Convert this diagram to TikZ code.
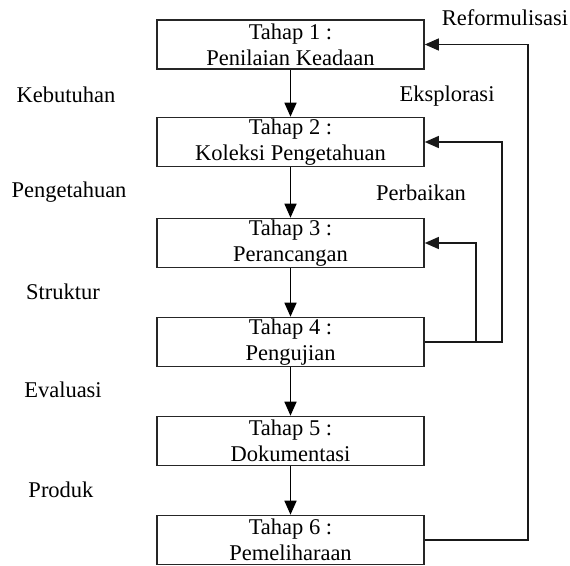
\documentclass[tikz,border=0pt]{standalone}
\usepackage{fontspec}
\setmainfont{Liberation Serif}
\usetikzlibrary{arrows.meta}
\begin{document}
\begin{tikzpicture}[x=1pt,y=-1pt,
  stage/.style={draw=black!85,line width=1.6pt,minimum width=267pt,minimum height=49pt,inner sep=0pt,align=center,font=\fontsize{22.5}{26}\selectfont,text=black},
  lbl/.style={font=\fontsize{22.5}{26}\selectfont,text=black,inner sep=0pt},
  flow/.style={line width=1.6pt,draw=black,-{Triangle[length=14pt,width=12pt]}},
  back/.style={line width=1.3pt,draw=black!90,-{Triangle[length=14pt,width=12pt]}}]
\useasboundingbox (0,0) rectangle (570,565);
\node[stage] (s1) at (290.5,44.5) {Tahap 1 :\\Penilaian Keadaan};
\node[stage] (s2) at (290.5,142) {Tahap 2 :\\Koleksi Pengetahuan};
\node[stage] (s3) at (290.5,243) {Tahap 3 :\\Perancangan};
\node[stage] (s4) at (290.5,342) {Tahap 4 :\\Pengujian};
\node[stage] (s5) at (290.5,441) {Tahap 5 :\\Dokumentasi};
\node[stage] (s6) at (290.5,540) {Tahap 6 :\\Pemeliharaan};
\draw[flow] (s1) -- (s2);
\draw[flow] (s2) -- (s3);
\draw[flow] (s3) -- (s4);
\draw[flow] (s4) -- (s5);
\draw[flow] (s5) -- (s6);
\coordinate (rf) at (528,0);
\coordinate (ex) at (502,0);
\coordinate (pb) at (476,0);
\draw[back] (s6.east) -| (rf |- s1.east) -- (s1.east);
\draw[back] (s4.east) -| (ex |- s2.east) -- (s2.east);
\draw[back] (pb |- s4.east) -- (pb |- s3.east) -- (s3.east);
\node[lbl] (reform) at (505,18) {Reformulisasi};
\node[lbl] (eksp) at (447,96) {Eksplorasi};
\node[lbl] (perb) at (421,193) {Perbaikan};
\node[lbl] (keb) at (66,95) {Kebutuhan};
\node[lbl] (peng) at (69,192) {Pengetahuan};
\node[lbl] (str) at (63,292) {Struktur};
\node[lbl] (eva) at (63,390) {Evaluasi};
\node[lbl] (prod) at (61,490) {Produk};
\end{tikzpicture}
\end{document}
